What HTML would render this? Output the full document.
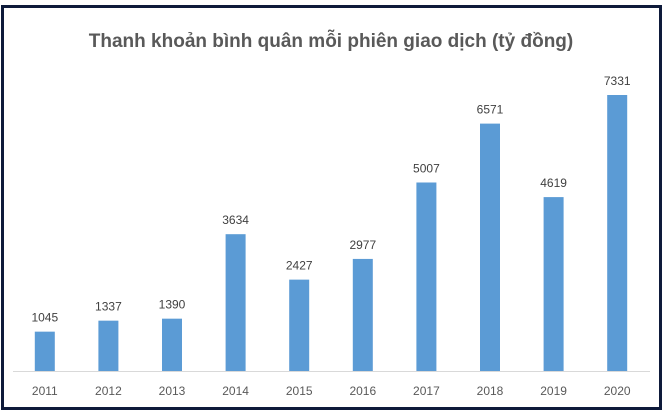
<!DOCTYPE html>
<html><head><meta charset="utf-8"><style>
body{margin:0;background:#fff}
svg{display:block;font-family:"Liberation Sans",Arial,sans-serif}
</style></head><body>
<svg width="666" height="418">
<rect x="2.5" y="6.5" width="658" height="402" fill="#fff" stroke="#0e1a3a" stroke-width="3"/>
<text x="331" y="47" text-anchor="middle" font-size="19" font-weight="bold" fill="#595959">Thanh khoản bình quân mỗi phiên giao dịch (tỷ đồng)</text>
<line x1="13" y1="371.5" x2="650" y2="371.5" stroke="#d9d9d9"/>
<g id="bars"></g>
</svg>
<script>
const categories=["2011","2012","2013","2014","2015","2016","2017","2018","2019","2020"];
const values=[1045,1337,1390,3634,2427,2977,5007,6571,4619,7331];
const x0=13,step=63.6,base=371,scale=276/7331,bw=20;
const x=i=>x0+step*(i+0.5);
const y=v=>base-v*scale;
const g=document.getElementById('bars'),NS="http://www.w3.org/2000/svg";
categories.forEach((c,i)=>{
 const r=document.createElementNS(NS,'rect');
 r.setAttribute('x',x(i)-bw/2);r.setAttribute('y',y(values[i]));
 r.setAttribute('width',bw);r.setAttribute('height',base-y(values[i]));
 r.setAttribute('fill','#5b9bd5');
 
 
 g.appendChild(r);
 const t=document.createElementNS(NS,'text');
 t.setAttribute('x',x(i));t.setAttribute('y',y(values[i])-10);
 t.setAttribute('text-anchor','middle');t.setAttribute('font-size','12');t.setAttribute('fill','#404040');
 t.textContent=values[i];
 
 
 g.appendChild(t);
 const l=document.createElementNS(NS,'text');
 l.setAttribute('x',x(i));l.setAttribute('y',395);
 l.setAttribute('text-anchor','middle');l.setAttribute('font-size','12');l.setAttribute('fill','#595959');
 l.textContent=c;
 
 
 g.appendChild(l);
});
</script>
</body></html>
